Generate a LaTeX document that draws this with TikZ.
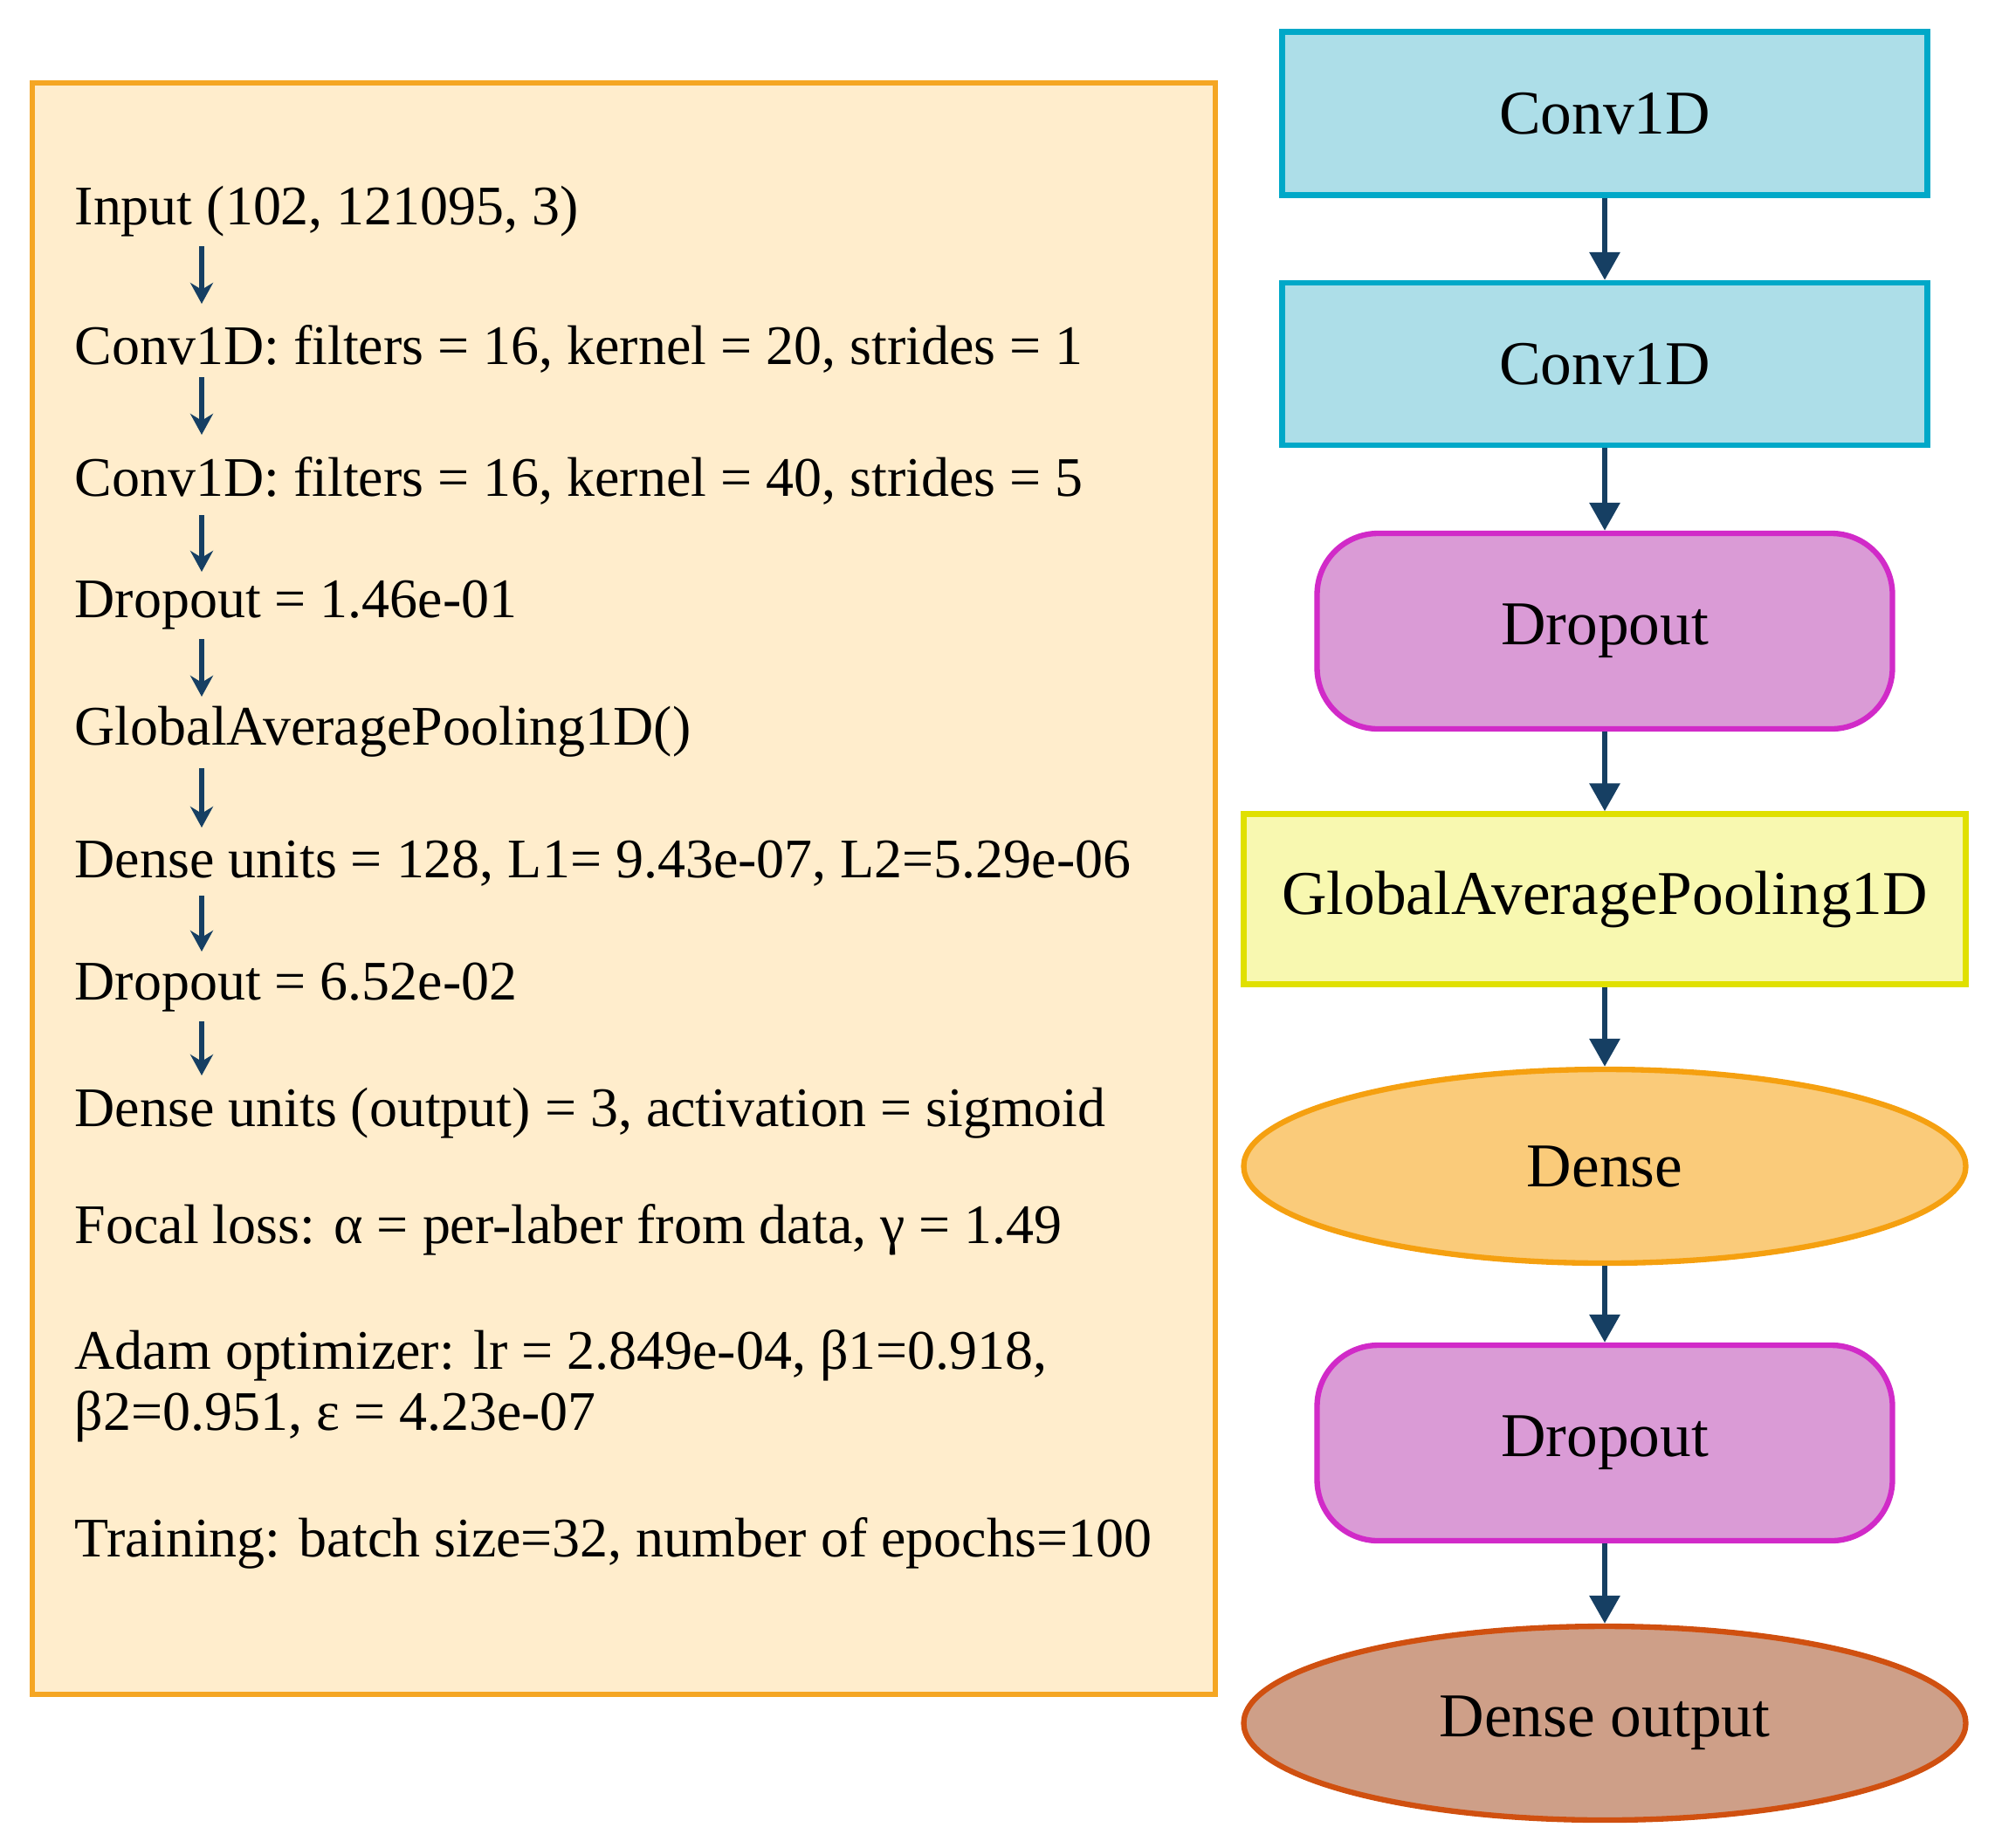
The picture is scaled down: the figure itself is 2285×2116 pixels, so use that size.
\documentclass[tikz,border=0pt]{standalone}
\usepackage{fontspec}
\setmainfont{Liberation Serif}
\usetikzlibrary{shapes.geometric,arrows.meta}
\definecolor{arr}{HTML}{163F63}
\begin{document}
\begin{tikzpicture}[x=0.1mm,y=-0.1mm,
  txt/.style={anchor=west,inner sep=0,font=\fontsize{18.2}{21}\selectfont},
  sarr/.style={-{Stealth[length=2.4mm,width=2.6mm]},draw=arr,line width=1.5pt},
  barr/.style={-{Triangle[length=3.2mm,width=3.4mm]},draw=arr,line width=1.8pt},
  lbl/.style={font=\fontsize{20.3}{24}\selectfont,line width=1.8pt,inner sep=0}]
\useasboundingbox (0,0) rectangle (2285,2116);
\node[draw={rgb,255:red,245;green,166;blue,35},fill={rgb,255:red,255;green,237;blue,204},line width=1.8pt,minimum width=135.5mm,minimum height=184.6mm,inner sep=0] (panel) at (714.5,1018) {};
\node[txt] (t1) at (85,242) {Input (102, 121095, 3)};
\node[txt] (t2) at (85,400) {Conv1D: filters = 16, kernel = 20, strides = 1};
\node[txt] (t3) at (85,551) {Conv1D: filters = 16, kernel = 40, strides = 5};
\node[txt] (t4) at (85,693) {Dropout = 1.46e-01};
\node[txt] (t5) at (85,838) {GlobalAveragePooling1D()};
\node[txt] (t6) at (85,989) {Dense units = 128, L1= 9.43e-07, L2=5.29e-06};
\node[txt] (t7) at (85,1131) {Dropout = 6.52e-02};
\node[txt] (t8) at (85,1275) {Dense units (output) = 3, activation = sigmoid};
\node[txt] (t9) at (85,1409) {Focal loss: α = per-laber from data, γ = 1.49};
\node[txt] (t10) at (85,1553) {Adam optimizer: lr = 2.849e-04, β1=0.918,};
\node[txt] (t11) at (85,1623) {β2=0.951, ε = 4.23e-07};
\node[txt] (t12) at (85,1768) {Training: batch size=32, number of epochs=100};
\foreach \a/\ya/\yb in {t1/282/348,t2/432/498,t3/590/655,t4/732/798,t5/880/948,t6/1026/1090,t7/1170/1232}{
  \coordinate (\a s) at (231,\ya); \coordinate (\a e) at (231,\yb);
  \draw[sarr] (\a s) -- (\a e);}
\node[lbl,draw={rgb,255:red,0;green,168;blue,200},fill={rgb,255:red,173;green,222;blue,232},minimum width=73.9mm,minimum height=18.7mm] (c1) at (1838,130) {Conv1D};
\node[lbl,draw={rgb,255:red,0;green,168;blue,200},fill={rgb,255:red,173;green,222;blue,232},minimum width=73.9mm,minimum height=18.6mm] (c2) at (1838,417) {Conv1D};
\node[lbl,draw={rgb,255:red,209;green,42;blue,200},fill={rgb,255:red,218;green,155;blue,214},rounded corners=7mm,minimum width=65.9mm,minimum height=22.4mm] (d1) at (1838,723) {Dropout};
\node[lbl,draw={rgb,255:red,224;green,224;blue,0},fill={rgb,255:red,248;green,248;blue,176},minimum width=82.7mm,minimum height=19.5mm] (g) at (1838,1030) {GlobalAveragePooling1D};
\node[lbl,ellipse,draw={rgb,255:red,245;green,160;blue,16},fill={rgb,255:red,250;green,203;blue,122},minimum width=82.7mm,minimum height=22.2mm] (de) at (1838,1336) {Dense};
\node[lbl,draw={rgb,255:red,209;green,42;blue,200},fill={rgb,255:red,218;green,155;blue,214},rounded corners=7mm,minimum width=65.9mm,minimum height=22.4mm] (d2) at (1838,1653) {Dropout};
\node[lbl,ellipse,draw={rgb,255:red,208;green,80;blue,16},fill={rgb,255:red,206;green,159;blue,136},minimum width=82.7mm,minimum height=22.2mm] (o) at (1838,1974) {Dense output};
\draw[barr] (c1) -- (c2);
\draw[barr] (c2) -- (d1);
\draw[barr] (d1) -- (g);
\draw[barr] (g) -- (de);
\draw[barr] (de) -- (d2);
\draw[barr] (d2) -- (o);
\end{tikzpicture}
\end{document}
